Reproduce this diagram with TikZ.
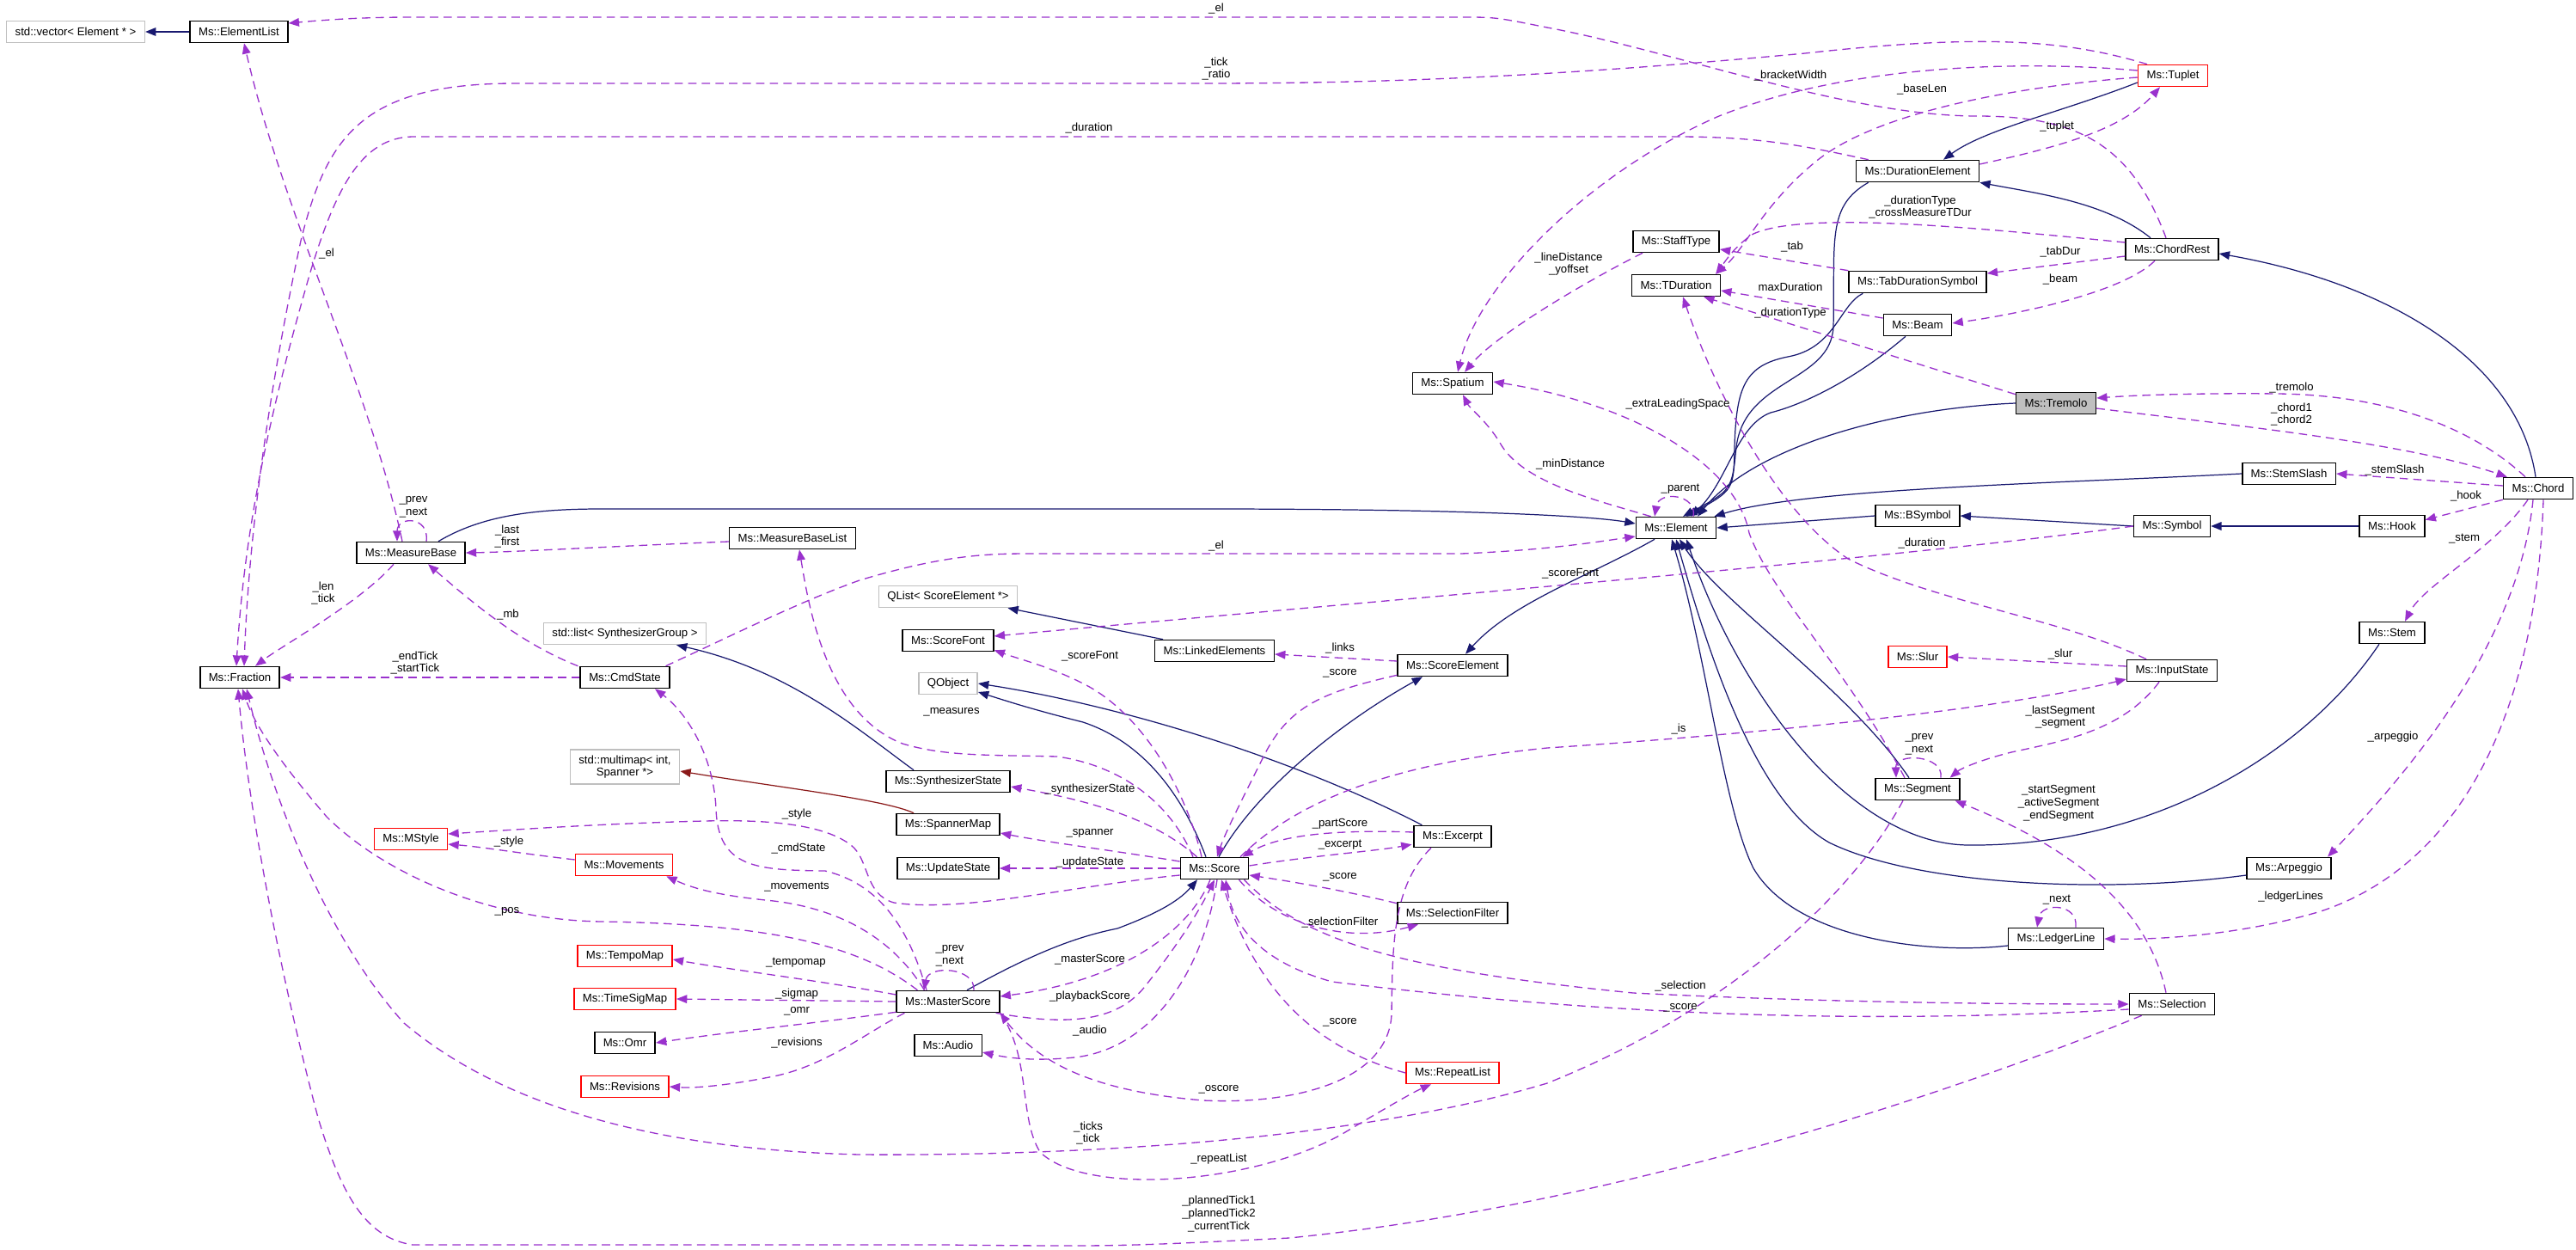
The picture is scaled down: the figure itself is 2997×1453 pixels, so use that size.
\documentclass[tikz,border=0pt]{standalone}
\usepackage{fontspec}
\setmainfont{Liberation Sans}
\usetikzlibrary{arrows.meta,calc}
\definecolor{dxblue}{HTML}{191970}
\definecolor{dxpurple}{HTML}{9A32CD}
\definecolor{dxred}{HTML}{FF0000}
\definecolor{dxgrey}{HTML}{BFBFBF}
\definecolor{dxbrown}{HTML}{8B1A1A}
\newcommand{\dxfont}{\fontsize{7.5}{8.4}\selectfont}
\tikzset{
  cls/.style={draw=black, fill=white, line width=0.9pt, minimum height=0.5cm, inner xsep=0.2cm, inner ysep=0pt, font=\dxfont, align=center},
  clsext/.style={cls, draw=dxgrey},
  clsred/.style={cls, draw=dxred},
  clsme/.style={cls, fill=dxgrey},
  inh/.style={draw=dxblue, line width=0.7pt, -{Triangle[length=7pt,width=5.5pt]}},
  inhtpl/.style={inh, draw=dxbrown},
  usage/.style={draw=dxpurple, line width=0.75pt, dash pattern=on 5.5pt off 3.5pt, -{Triangle[length=7pt,width=5.5pt]}},
  elbl/.style={font=\dxfont, inner sep=0pt, align=center}
}

\begin{document}
\begin{tikzpicture}[x=0.02cm, y=-0.02cm]
    \useasboundingbox (0,0) rectangle (2997,1453);
    % left column
    \node[clsext] (vec) at (88,37) {std::vector< Element * >};
    \node[cls] (elist) at (278,37) {Ms::ElementList};
    \node[cls] (frac) at (279,788) {Ms::Fraction};
    \node[cls] (mbase) at (478,643) {Ms::MeasureBase};
    \node[cls] (mblist) at (922,626) {Ms::MeasureBaseList};
    \node[clsext] (slist) at (727,737) {std::list< SynthesizerGroup >};
    \node[cls] (cmd) at (727,788) {Ms::CmdState};
    \node[clsext, minimum height=0.8cm] (mmap) at (727,892) {std::multimap< int,\\ Spanner *>};
    \node[clsred] (mstyle) at (478,976) {Ms::MStyle};
    \node[clsred] (moves) at (726,1006) {Ms::Movements};
    \node[clsred] (tempo) at (727,1112) {Ms::TempoMap};
    \node[clsred] (tsig) at (727,1162) {Ms::TimeSigMap};
    \node[cls] (omr) at (727,1213) {Ms::Omr};
    \node[clsred] (revis) at (727,1264) {Ms::Revisions};
    % score column
    \node[clsext] (qlist) at (1103,694) {QList< ScoreElement *>};
    \node[cls] (sfont) at (1103,745) {Ms::ScoreFont};
    \node[clsext] (qobj) at (1103,795) {QObject};
    \node[cls] (synth) at (1103,909) {Ms::SynthesizerState};
    \node[cls] (smap) at (1103,959) {Ms::SpannerMap};
    \node[cls] (ustate) at (1103,1010) {Ms::UpdateState};
    \node[cls] (mscore) at (1103,1165) {Ms::MasterScore};
    \node[cls] (audio) at (1103,1216) {Ms::Audio};
    \node[cls] (linked) at (1413,757) {Ms::LinkedElements};
    \node[cls] (score) at (1413,1010) {Ms::Score};
    \node[cls] (spat) at (1690,446) {Ms::Spatium};
    \node[cls] (selem) at (1690,774) {Ms::ScoreElement};
    \node[cls] (excerpt) at (1690,973) {Ms::Excerpt};
    \node[cls] (selfilt) at (1690,1062) {Ms::SelectionFilter};
    \node[clsred] (replist) at (1690,1248) {Ms::RepeatList};
    % element column
    \node[cls] (stafft) at (1950,281) {Ms::StaffType};
    \node[cls] (tdur) at (1950,332) {Ms::TDuration};
    \node[cls] (elem) at (1950,614) {Ms::Element};
    \node[cls] (durel) at (2231,199) {Ms::DurationElement};
    \node[cls] (tabdur) at (2231,328) {Ms::TabDurationSymbol};
    \node[cls] (beam) at (2231,378) {Ms::Beam};
    \node[cls] (bsym) at (2231,600) {Ms::BSymbol};
    \node[clsred] (slur) at (2231,764) {Ms::Slur};
    \node[cls] (seg) at (2231,918) {Ms::Segment};
    \node[clsme] (trem) at (2392,469) {Ms::Tremolo};
    \node[cls] (ledger) at (2392,1092) {Ms::LedgerLine};
    \node[clsred] (tuplet) at (2528,88) {Ms::Tuplet};
    \node[cls] (chrest) at (2527,290) {Ms::ChordRest};
    \node[cls] (sym) at (2527,612) {Ms::Symbol};
    \node[cls] (inst) at (2527,780) {Ms::InputState};
    \node[cls] (select) at (2527,1168) {Ms::Selection};
    \node[cls] (stslash) at (2663,551) {Ms::StemSlash};
    \node[cls] (arp) at (2663,1010) {Ms::Arpeggio};
    \node[cls] (hook) at (2783,612) {Ms::Hook};
    \node[cls] (stem) at (2783,736) {Ms::Stem};
    \node[cls] (chord) at (2953,568) {Ms::Chord};

    % inheritance
    \draw[inh] (elist) -- (vec);
    \draw[inh] ($(tuplet.west)+(0,8)$) .. controls (2400,130) and (2310,150) .. ($(durel.north)+(30,0)$);
    \draw[inh] ($(chrest.north)+(-25,0)$) .. controls (2450,235) and (2370,225) .. (durel.south east);
    \draw[inh] ($(chord.north)+(-3,0)$) .. controls (2930,420) and (2780,330) .. ($(chrest.east)+(0,5)$);
    \draw[inh] ($(durel.south west)+(15,0)$) .. controls (2125,240) and (2135,280) .. (2133,380) .. controls (2130,445) and (2030,440) .. (2020,520) .. controls (2015,570) .. ($(elem.north)+(8,0)$);
    \draw[inh] ($(tabdur.south west)+(17,0)$) .. controls (2140,355) and (2135,405) .. (2080,415) .. controls (2030,425) and (2020,450) .. (2018,520) .. controls (2017,570) .. ($(elem.north)+(12,0)$);
    \draw[inh] ($(beam.south)+(-14,0)$) .. controls (2160,440) and (2100,470) .. (2060,480) .. controls (2020,495) and (2010,560) .. ($(elem.north)+(17,0)$);
    \draw[inh] (trem.west) .. controls (2200,475) and (2040,520) .. ($(elem.north)+(25,0)$);
    \draw[inh] (stslash.west) .. controls (2400,562) and (2100,568) .. ($(elem.north east)+(-3,0)$);
    \draw[inh] (bsym.west) -- (elem.east);
    \draw[inh] (sym.west) -- (bsym.east);
    \draw[inh] (hook) -- (sym);
    \draw[inh] ($(stem.south)+(-15,0)$) .. controls (2680,880) and (2500,985) .. (2290,983) .. controls (2150,982) and (2020,800) .. ($(elem.south)+(12,0)$);
    \draw[inh] ($(seg.north)+(-10,0)$) .. controls (2150,800) and (2000,700) .. ($(elem.south)+(4,0)$);
    \draw[inh] ($(arp.west)+(0,8)$) .. controls (2450,1040) and (2230,1030) .. (2128,980) .. controls (2040,930) and (1985,750) .. (elem.south);
    \draw[inh] ($(ledger.west)+(0,8)$) .. controls (2250,1110) and (2090,1095) .. (2040,1010) .. controls (2005,940) and (1985,760) .. ($(elem.south)+(-5,0)$);
    \draw[inh] ($(mbase.north)+(32,0)$) .. controls (560,600) and (620,592) .. (700,592) -- (1400,592) .. controls (1700,592) and (1850,600) .. ($(elem.west)+(0,-5)$);
    \draw[inh] ($(elem.south)+(-25,0)$) .. controls (1850,670) and (1760,700) .. ($(selem.north)+(15,0)$);
    \draw[inh] ($(linked.north)+(-60,0)$) -- ($(qlist.south east)+(-12,0)$);
    \draw[inh] ($(score.north)+(5,0)$) .. controls (1460,920) and (1560,840) .. ($(selem.south)+(-35,0)$);
    \draw[inh] ($(score.north)+(-10,0)$) .. controls (1370,910) and (1320,860) .. (1260,840) .. controls (1200,825) and (1170,815) .. ($(qobj.east)+(0,10)$);
    \draw[inh] ($(excerpt.north west)+(10,0)$) .. controls (1500,880) and (1300,820) .. (qobj.east);
    \draw[inh] ($(mscore.north)+(22,0)$) .. controls (1200,1110) and (1250,1090) .. (1300,1080) .. controls (1340,1065) and (1370,1050) .. ($(score.south)+(-20,0)$);
    \draw[inh] ($(synth.north)+(-40,0)$) .. controls (1000,850) and (920,780) .. ($(slist.south)+(60,0)$);
    \draw[inhtpl] ($(smap.north)+(-40,0)$) .. controls (1030,930) and (900,915) .. ($(mmap.east)+(0,5)$);

    % members, element side
    \draw[usage] ($(chrest.north)+(-7,0)$) .. controls (2480,170) and (2420,135) .. (2300,135) .. controls (2150,135) and (1950,60) .. (1800,32) .. controls (1740,20) .. (1700,20) -- (480,20) .. controls (420,20) and (380,23) .. ($(elist.east)+(0,-10)$);
    \draw[usage] ($(tuplet.north)+(-30,0)$) .. controls (2400,45) and (2300,40) .. (2100,62) .. controls (1800,90) and (1600,97) .. (1400,97) -- (600,97) .. controls (420,97) and (380,160) .. (350,280) .. controls (320,420) and (290,600) .. ($(frac.north)+(5,0)$);
    \draw[usage] ($(durel.north west)+(15,0)$) .. controls (2100,170) and (2050,159) .. (1950,159) -- (480,159) .. controls (420,160) and (390,220) .. (360,320) .. controls (320,460) and (285,600) .. ($(frac.north)+(-4,0)$);
    \draw[usage] ($(chrest.west)+(0,-8)$) .. controls (2300,265) and (2100,245) .. (2040,272) .. controls (2020,285) and (2010,300) .. ($(tdur.north east)+(-6,0)$);
    \draw[usage] ($(tuplet.west)+(0,2)$) .. controls (2350,100) and (2180,130) .. (2110,190) .. controls (2050,240) and (2030,290) .. ($(tdur.north east)+(-6,0)$);
    \draw[usage] ($(tuplet.west)+(0,-6)$) .. controls (2350,70) and (2150,75) .. (2000,135) .. controls (1850,200) and (1720,330) .. ($(spat.north)+(6,0)$);
    \draw[usage] (tabdur.north west) -- ($(stafft.east)+(0,9)$);
    \draw[usage] ($(beam.west)+(0,-8)$) -- ($(tdur.east)+(0,6)$);
    \draw[usage] ($(trem.north west)+(0,3)$) -- ($(tdur.south east)+(-20,0)$);
    \draw[usage] ($(chrest.west)+(0,8)$) -- ($(tabdur.east)+(0,-10)$);
    \draw[usage] ($(chrest.south)+(-20,0)$) .. controls (2470,340) and (2350,365) .. ($(beam.east)+(0,-2)$);
    \draw[usage] ($(durel.east)+(0,-8)$) .. controls (2400,170) and (2470,150) .. ($(tuplet.south)+(-15,0)$);
    \draw[usage] ($(stafft.south west)+(12,0)$) .. controls (1840,330) and (1740,390) .. ($(spat.north)+(14,0)$);
    \draw[usage] ($(seg.north)+(-15,0)$) .. controls (2150,780) and (2060,690) .. (2035,620) .. controls (2020,540) and (1900,470) .. ($(spat.east)+(0,-2)$);
    \draw[usage] ($(elem.north west)+(18,0)$) .. controls (1850,580) and (1770,560) .. (1745,515) .. controls (1730,490) and (1710,475) .. ($(spat.south)+(12,0)$);
    \draw[usage] ($(elem.north)+(20,0)$) .. controls (1975,575) and (1930,570) .. ($(elem.north)+(-25,0)$);
    \draw[usage] ($(inst.north)+(-30,0)$) .. controls (2400,720) and (2250,700) .. (2150,650) .. controls (2060,590) and (1990,440) .. ($(tdur.south)+(8,0)$);
    \draw[usage] (sym.west) .. controls (2200,650) and (1700,690) .. ($(sfont.east)+(0,-5)$);
    \draw[usage] ($(inst.south)+(-15,0)$) .. controls (2470,850) and (2400,862) .. (2340,875) .. controls (2300,885) and (2280,895) .. ($(seg.north east)+(-12,0)$);
    \draw[usage] ($(seg.north)+(27,0)$) .. controls (2262,878) and (2205,875) .. ($(seg.north)+(-25,0)$);
    \draw[usage] ($(inst.west)+(0,-5)$) -- (slur.east);
    \draw[usage] ($(chord.north)+(-15,0)$) .. controls (2890,510) and (2800,460) .. (2650,458) .. controls (2550,457) and (2480,460) .. ($(trem.east)+(0,-6)$);
    \draw[usage] ($(trem.east)+(0,6)$) .. controls (2600,495) and (2800,515) .. ($(chord.north west)+(5,0)$);
    \draw[usage] ($(chord.west)+(0,-3)$) -- (stslash.east);
    \draw[usage] (chord.south west) -- ($(hook.north east)+(0,6)$);
    \draw[usage] ($(chord.south)+(-12,0)$) .. controls (2900,640) and (2820,680) .. ($(stem.north)+(15,0)$);
    \draw[usage] ($(chord.south)+(-6,0)$) .. controls (2930,750) and (2800,900) .. ($(arp.north)+(45,0)$);
    \draw[usage] ($(chord.south)+(6,0)$) .. controls (2950,850) and (2850,1010) .. (2700,1060) .. controls (2600,1090) and (2500,1093) .. (ledger.east);
    \draw[usage] ($(ledger.north)+(23,0)$) .. controls (2418,1050) and (2375,1050) .. ($(ledger.north)+(-22,0)$);
    \draw[usage] ($(select.north)+(-7,0)$) .. controls (2500,1060) and (2420,990) .. ($(seg.south east)+(-6,0)$);
    \draw[usage] ($(seg.south)+(-17,0)$) .. controls (2150,1050) and (2000,1180) .. (1800,1260) .. controls (1600,1320) and (1300,1345) .. (1000,1343) .. controls (800,1338) and (600,1300) .. (470,1190) .. controls (370,1080) and (310,900) .. ($(frac.south)+(8,0)$);
    \draw[usage] ($(select.south west)+(15,0)$) .. controls (2300,1260) and (1900,1400) .. (1500,1440) .. controls (1300,1450) .. (1100,1448) -- (480,1448) .. controls (430,1440) and (400,1400) .. (370,1300) .. controls (330,1150) and (290,950) .. ($(frac.south)+(-2,0)$);

    % members, measure side
    \draw[usage] ($(mbase.north)+(-10,0)$) .. controls (430,450) and (330,250) .. ($(elist.south)+(6,0)$);
    \draw[usage] ($(mbase.north)+(18,0)$) .. controls (500,600) and (462,600) .. ($(mbase.north)+(-16,0)$);
    \draw[usage] ($(mblist.west)+(0,4)$) .. controls (700,636) and (600,642) .. (mbase.east);
    \draw[usage] ($(mbase.south)+(-20,0)$) .. controls (420,700) and (330,750) .. ($(frac.north)+(18,0)$);
    \draw[usage] ($(cmd.north west)+(-2,0)$) .. controls (610,750) and (560,710) .. ($(mbase.south)+(20,0)$);
    \draw[usage] (cmd) -- (frac);
    \draw[usage] ($(cmd.north east)+(-5,0)$) .. controls (850,740) and (930,700) .. (1000,675) .. controls (1100,645) and (1150,644) .. (1200,644) -- (1700,644) .. controls (1800,640) and (1860,630) .. ($(elem.west)+(0,10)$);
    \draw[usage] ($(score.north)+(-25,0)$) .. controls (1360,930) and (1300,890) .. (1230,880) .. controls (1150,878) and (1100,880) .. (1050,865) .. controls (960,830) and (940,700) .. ($(mblist.south)+(8,0)$);

    % members, score side
    \draw[usage] ($(mscore.north west)+(25,0)$) .. controls (1000,1100) and (900,1075) .. (700,1072) .. controls (560,1070) and (440,1010) .. (380,950) .. controls (320,880) and (295,840) .. ($(frac.south)+(3,0)$);
    \draw[usage] ($(score.west)+(0,8)$) .. controls (1250,1030) and (1120,1062) .. (1040,1050) .. controls (1005,1040) and (1012,1000) .. (990,983) .. controls (960,960) and (900,953) .. (820,955) .. controls (700,958) and (600,965) .. ($(mstyle.east)+(0,-6)$);
    \draw[usage] ($(moves.west)+(0,-6)$) .. controls (600,992) and (560,985) .. ($(mstyle.east)+(0,6)$);
    \draw[usage] ($(mscore.north west)+(33,0)$) .. controls (1050,1110) and (1000,1060) .. (900,1048) .. controls (840,1042) and (810,1035) .. ($(moves.south east)+(-8,0)$);
    \draw[usage] ($(mscore.north)+(-25,0)$) .. controls (1060,1090) and (1030,1030) .. (960,1013) .. controls (880,1012) and (835,1010) .. (833,940) .. controls (830,880) and (800,830) .. ($(cmd.south)+(35,0)$);
    \draw[usage] ($(mscore.west)+(0,-8)$) .. controls (950,1140) and (850,1128) .. ($(tempo.east)+(0,4)$);
    \draw[usage] (mscore.west) -- (tsig.east);
    \draw[usage] ($(mscore.south west)+(0,-1)$) .. controls (950,1190) and (850,1200) .. (omr.east);
    \draw[usage] ($(mscore.south west)+(10,0)$) .. controls (1010,1200) and (960,1240) .. (900,1252) .. controls (850,1262) and (810,1266) .. (revis.east);
    \draw[usage] ($(mscore.north)+(30,0)$) .. controls (1135,1125) and (1080,1122) .. ($(mscore.north)+(-28,0)$);
    \draw[usage] ($(score.south)+(-5,0)$) .. controls (1385,1080) and (1310,1140) .. ($(mscore.east)+(0,-6)$);
    \draw[usage] ($(mscore.south east)+(-5,0)$) .. controls (1250,1195) and (1300,1185) .. (1330,1150) .. controls (1370,1100) and (1395,1060) .. (score.south);
    \draw[usage] ($(score.south)+(3,0)$) .. controls (1400,1130) and (1340,1220) .. (1250,1230) .. controls (1200,1235) and (1170,1230) .. ($(audio.east)+(0,8)$);
    \draw[usage] ($(score.north west)+(20,0)$) .. controls (1340,950) and (1260,930) .. ($(synth.east)+(0,6)$);
    \draw[usage] ($(score.west)+(0,-8)$) .. controls (1300,990) and (1220,980) .. ($(smap.east)+(0,10)$);
    \draw[usage] (score.west) -- (ustate.east);
    \draw[usage] ($(score.north)+(-15,0)$) .. controls (1380,920) and (1330,830) .. (1260,795) .. controls (1220,775) and (1190,768) .. ($(sfont.south east)+(0,-2)$);
    \draw[usage] ($(selem.south west)+(0,-2)$) .. controls (1540,805) and (1500,820) .. (1470,880) .. controls (1440,940) and (1425,970) .. ($(score.north)+(3,0)$);
    \draw[usage] ($(selem.west)+(0,-5)$) -- ($(linked.east)+(0,4)$);
    \draw[usage] ($(score.north)+(30,0)$) .. controls (1500,940) and (1600,890) .. (1800,870) .. controls (2100,850) and (2350,820) .. ($(inst.west)+(0,10)$);
    \draw[usage] ($(excerpt.west)+(0,-5)$) .. controls (1560,965) and (1490,970) .. ($(score.north east)+(-8,0)$);
    \draw[usage] ($(score.east)+(0,-3)$) .. controls (1530,995) and (1600,990) .. ($(excerpt.south west)+(-2,-4)$);
    \draw[usage] ($(selfilt.north west)+(0,2)$) .. controls (1560,1035) and (1500,1025) .. ($(score.east)+(0,8)$);
    \draw[usage] ($(score.south east)+(-12,0)$) .. controls (1480,1070) and (1560,1100) .. ($(selfilt.south west)+(25,0)$);
    \draw[usage] (replist.west) .. controls (1530,1220) and (1460,1150) .. ($(score.south)+(8,0)$);
    \draw[usage] ($(score.south east)+(-6,0)$) .. controls (1520,1100) and (1650,1130) .. (1900,1155) .. controls (2100,1165) and (2300,1168) .. (select.west);
    \draw[usage] ($(select.west)+(0,6)$) .. controls (2200,1190) and (1900,1185) .. (1550,1142) .. controls (1470,1120) and (1435,1080) .. ($(score.south)+(13,0)$);
    \draw[usage] (mscore.south east) .. controls (1200,1230) and (1185,1300) .. (1210,1340) .. controls (1260,1390) and (1450,1380) .. (1560,1320) .. controls (1610,1290) and (1645,1270) .. ($(replist.south)+(-25,0)$);
    \draw[usage] ($(excerpt.south)+(-25,0)$) .. controls (1620,1030) and (1620,1100) .. (1619,1180) .. controls (1615,1260) and (1500,1285) .. (1400,1280) .. controls (1280,1270) and (1210,1240) .. (mscore.south east);

    % member names
    \foreach \px/\py/\lbl [count=\i] in {
      1415/10/{\_el}, 1415/80/{\_tick\\\_ratio}, 1267/149/{\_duration}, 380/295/{\_el},
      481/590/{\_prev\\\_next}, 590/624/{\_last\\\_first}, 376/690/{\_len\\\_tick}, 591/715/{\_mb},
      483/771/{\_endTick\\\_startTick}, 1415/635/{\_el}, 1107/828/{\_measures}, 2236/632/{\_duration},
      1827/667/{\_scoreFont}, 2234/241/{\_durationType\\\_crossMeasureTDur}, 2236/104/{\_baseLen},
      2083/88/{\_bracketWidth}, 2085/287/{\_tab}, 2083/334/{maxDuration}, 2083/364/{\_durationType},
      2397/293/{\_tabDur}, 2397/325/{\_beam}, 2393/147/{\_tuplet}, 1825/307/{\_lineDistance\\\_yoffset},
      1952/470/{\_extraLeadingSpace}, 1827/540/{\_minDistance}, 1955/569/{\_parent},
      2397/834/{\_lastSegment\\\_segment}, 2233/866/{\_prev\\\_next}, 2397/761/{\_slur}, 1953/848/{\_is},
      2666/451/{\_tremolo}, 2666/482/{\_chord1\\\_chord2}, 2786/547/{\_stemSlash}, 2869/577/{\_hook},
      2867/627/{\_stem}, 2784/857/{\_arpeggio}, 2665/1043/{\_ledgerLines}, 2393/1047/{\_next},
      2395/934/{\_startSegment\\\_activeSegment\\\_endSegment}, 1266/1318/{\_ticks\\\_tick},
      1418/1412/{\_plannedTick1\\\_plannedTick2\\\_currentTick}, 590/1060/{\_pos}, 927/947/{\_style},
      592/979/{\_style}, 927/1032/{\_movements}, 929/987/{\_cmdState}, 926/1120/{\_tempomap},
      927/1156/{\_sigmap}, 927/1176/{\_omr}, 927/1213/{\_revisions}, 1105/1112/{\_prev\\\_next},
      1268/1116/{\_masterScore}, 1268/1159/{\_playbackScore}, 1268/1199/{\_audio},
      1268/918/{\_synthesizerState}, 1268/969/{\_spanner}, 1268/1003/{\_updateState},
      1268/763/{\_scoreFont}, 1559/783/{\_score}, 1559/754/{\_links}, 1559/958/{\_partScore},
      1559/983/{\_excerpt}, 1559/1020/{\_score}, 1559/1073/{\_selectionFilter}, 1559/1189/{\_score},
      1955/1147/{\_selection}, 1955/1172/{\_score}, 1418/1348/{\_repeatList}, 1418/1267/{\_oscore}}
      \node[elbl] (lab\i) at (\px,\py) {\lbl};
  \end{tikzpicture}
\end{document}
